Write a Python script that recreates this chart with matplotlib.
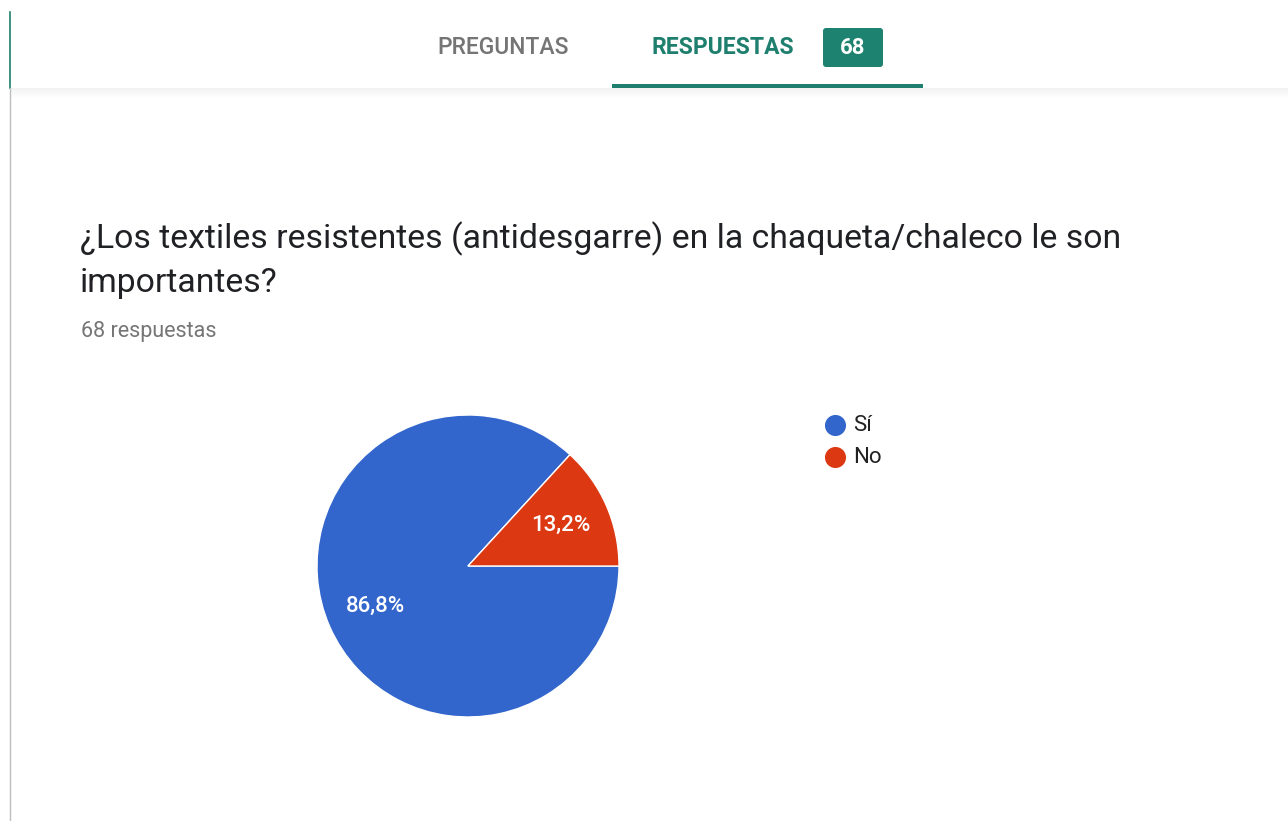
import matplotlib.pyplot as plt
from matplotlib.patches import Rectangle, FancyBboxPatch

plt.rcParams['font.family'] = ['Roboto', 'DejaVu Sans']

# data
labels = ['Sí', 'No']
values = [86.8, 13.2]
colors = ['#3366cc', '#dc3912']
n_respuestas = 68
title_lines = ['¿Los textiles resistentes (antidesgarre) en la chaqueta/chaleco le son',
               'importantes?']

W, H = 1288, 821
fig = plt.figure(figsize=(W / 100, H / 100), dpi=100)

# page axes in pixel coords
page = fig.add_axes([0, 0, 1, 1])
page.set_xlim(0, W)
page.set_ylim(H, 0)
page.axis('off')

# header shadow
for i in range(10):
    page.add_patch(Rectangle((10, 88 + i), W, 1, color='#000000', alpha=0.05 * (1 - i / 10), lw=0))
page.plot([10, 10], [12, 88], color='#1e7f6e', lw=1.2)
page.plot([10, 10], [88, H], color='#bdbdbd', lw=1.0)

# tabs
page.text(503, 47, 'PREGUNTAS', color='#757575', fontsize=16.5, fontweight='medium',
          ha='center', va='center')
page.text(723, 47, 'RESPUESTAS', color='#1e7f6e', fontsize=16.5, fontweight='bold',
          ha='center', va='center')
page.add_patch(FancyBboxPatch((823, 28), 60, 39, boxstyle='round,pad=0,rounding_size=3',
                              color='#1e8270', lw=0))
page.text(853, 47.5, str(n_respuestas), color='white', fontsize=16, fontweight='bold',
          ha='center', va='center')
page.add_patch(Rectangle((612, 84), 311, 4, color='#1e7f6e', lw=0))

# question title
page.text(80, 239, title_lines[0], color='#202124', fontsize=24.3, ha='left', va='center')
page.text(80, 283, title_lines[1], color='#202124', fontsize=24.3, ha='left', va='center')
page.text(81, 332, f'{n_respuestas} respuestas', color='#757575', fontsize=15.5,
          ha='left', va='center')

# legend
for i, (lab, col) in enumerate(zip(labels, colors)):
    y = 425 + 32 * i
    page.scatter([835], [y], s=230, color=col, lw=0)
    page.text(853, y + 6, lab, color='#222222', fontsize=16, ha='left', va='baseline')

# pie
cx, cy, r = 468, 566, 151
ax = fig.add_axes([(cx - r) / W, (H - cy - r) / H, 2 * r / W, 2 * r / H])
wedges, texts, autotexts = ax.pie(
    values, colors=colors, startangle=47.5, counterclock=True,
    autopct=lambda p: f'{p:.1f}%'.replace('.', ','), pctdistance=0.67,
    wedgeprops=dict(edgecolor='white', linewidth=1.0),
    textprops=dict(color='white', fontsize=16, fontweight='medium'))
ax.set_xlim(-1, 1)
ax.set_ylim(-1, 1)
ax.set_aspect('equal')
ax.axis('off')

fig.savefig('out.png', dpi=100)
